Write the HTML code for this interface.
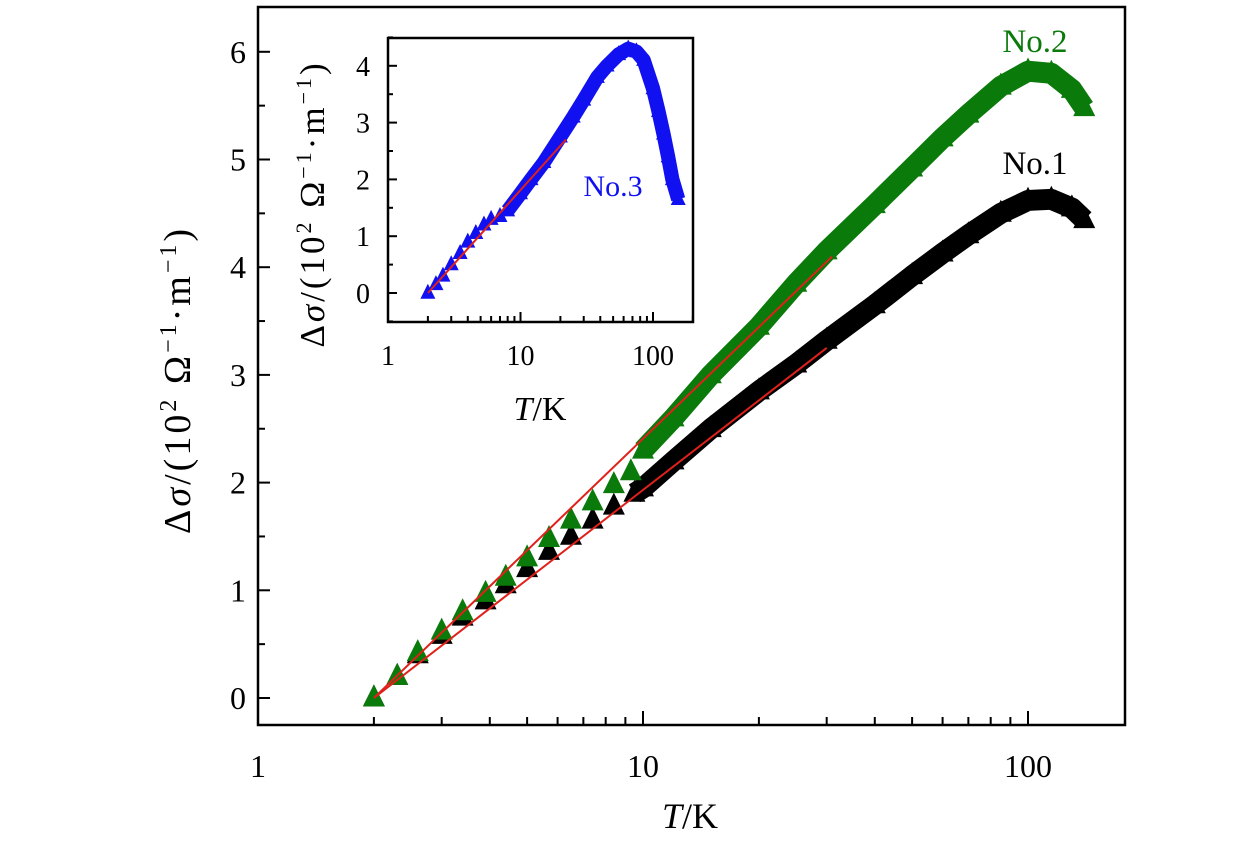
<!DOCTYPE html>
<html><head><meta charset="utf-8"><style>
body{margin:0;background:#fff}
svg{display:block;font-family:"Liberation Serif",serif}
</style></head><body>
<svg id="c" width="1260" height="842" viewBox="0 0 1260 842"></svg>
<script>
// Main chart data
const tNo1=[2,2.3,2.6,3,3.4,3.9,4.4,5,5.7,6.5,7.4,8.4,9.5,10,12,15,20,25,30,40,50,60,70,85,100,115,130,140];
const yNo1=[0,0.2,0.4,0.58,0.75,0.9,1.05,1.2,1.36,1.5,1.65,1.78,1.9,1.95,2.2,2.5,2.85,3.1,3.32,3.65,3.92,4.13,4.3,4.5,4.62,4.63,4.55,4.44];
const tNo2=[2,2.3,2.6,3,3.4,3.9,4.4,5,5.7,6.5,7.4,8.4,9.3,10,12,15,20,25,30,40,50,60,70,85,100,115,130,140];
const yNo2=[0,0.2,0.42,0.62,0.8,0.97,1.12,1.3,1.48,1.65,1.82,1.98,2.1,2.3,2.6,3.0,3.45,3.85,4.15,4.58,4.92,5.2,5.42,5.68,5.82,5.8,5.65,5.48];
const fitNo1T=[2,30], fitNo1Y=[0,3.25];
const fitNo2T=[2,31], fitNo2Y=[0,4.1];
const yTicks=[0,1,2,3,4,5,6];
const xTicks=[1,10,100];
// Inset data
const tNo3=[2,2.3,2.6,3,3.5,4,4.6,5.3,6,7,8,10,12,15,20,25,30,38,45,55,65,75,85,100,110,120,130,140,155];
const yNo3=[0,0.15,0.3,0.5,0.7,0.9,1.05,1.2,1.3,1.35,1.45,1.75,2.0,2.3,2.75,3.1,3.4,3.8,4.0,4.2,4.3,4.25,4.1,3.6,3.2,2.8,2.4,2.0,1.65];
const fitNo3T=[2,22], fitNo3Y=[0,2.7];
const insetYTicks=[0,1,2,3,4];

const NS="http://www.w3.org/2000/svg";
const svg=document.getElementById('c');
function el(tag,attrs,parent){const e=document.createElementNS(NS,tag);for(const k in attrs)e.setAttribute(k,attrs[k]);(parent||svg).appendChild(e);return e;}

const X=t=>258+385*Math.log10(t);
const Y=v=>698-107.7*v;
const IX=t=>388+132.5*Math.log10(t);
const IY=v=>293-56.8*v;

function tri(x,y,s,col,parent){
  return el('polygon',{points:`${x},${y-s*0.62} ${x-s/2},${y+s*0.38} ${x+s/2},${y+s*0.38}`,fill:col},parent);
}
function series(ts,ys,fx,fy,col,s,name,dense){
  const g=el('g',{});
  
  
  const pts=[];
  ts.forEach((t,i)=>{if(t>=dense)pts.push(fx(t)+','+(fy(ys[i])));});
  const band=el('polyline',{points:pts.join(' '),fill:'none',stroke:col,'stroke-width':s*0.95,'stroke-linejoin':'round'},g);
  
  
  ts.forEach((t,i)=>{
    const p=tri(fx(t),fy(ys[i]),s,col,g);
    
    
  });
}
function fit(ts,ys,fx,fy,name){
  const l=el('line',{x1:fx(ts[0]),y1:fy(ys[0]),x2:fx(ts[1]),y2:fy(ys[1]),stroke:'#e0201a','stroke-width':2});
  
  
}
const titleHTML=(sup,dy)=>`Δ<tspan font-style="italic">σ</tspan>/(10<tspan dy="-${dy}" font-size="${sup}">2</tspan><tspan dy="${dy}"> Ω</tspan><tspan dy="-${dy}" font-size="${sup}">−1</tspan><tspan dy="${dy}">·m</tspan><tspan dy="-${dy}" font-size="${sup}">−1</tspan><tspan dy="${dy}">)</tspan>`;

const fr=el('rect',{x:258,y:7,width:867,height:718,fill:'none',stroke:'#000','stroke-width':2.5});


yTicks.forEach(v=>{
  el('line',{x1:258,y1:Y(v),x2:270,y2:Y(v),stroke:'#000','stroke-width':2});
  el('line',{x1:258,y1:Y(v+0.5),x2:265,y2:Y(v+0.5),stroke:'#000','stroke-width':2});
  const t=el('text',{x:238,y:Y(v)+11,'font-size':32,'text-anchor':'middle'});
  t.textContent=v;
  
  
});
for(let d=1;d<=100;d*=10){for(let m=1;m<=9;m++){const t=d*m;const x=X(t);if(x>1125||(d===1&&m===1))continue;
  el('line',{x1:x,y1:725,x2:x,y2:725-(m===1?14:8),stroke:'#000','stroke-width':2});}}
xTicks.forEach(t=>{
  const e=el('text',{x:X(t),y:777,'font-size':32,'text-anchor':'middle'});
  e.textContent=t;
  
  
});
const xt=el('text',{x:690,y:828,'font-size':36,'text-anchor':'middle'});
xt.innerHTML='<tspan font-style="italic">T</tspan>/K';


const yt=el('text',{x:0,y:0,'font-size':38,'letter-spacing':3,'text-anchor':'middle',transform:'translate(190,380) rotate(-90)'});
yt.innerHTML=titleHTML(24,14);



series(tNo1,yNo1,X,Y,'#000',22,'series-no1',9.5);
series(tNo2,yNo2,X,Y,'#0a7a0a',22,'series-no2',10);
fit(fitNo1T,fitNo1Y,X,Y,'fit-line-no1');
fit(fitNo2T,fitNo2Y,X,Y,'fit-line-no2');

const l2=el('text',{x:1035,y:52,'font-size':33,fill:'#0a7a0a','text-anchor':'middle'});l2.textContent='No.2';

const l1=el('text',{x:1035,y:174,'font-size':33,fill:'#000','text-anchor':'middle'});l1.textContent='No.1';


// inset
const ib=el('rect',{x:388,y:38,width:305,height:284,fill:'#fff',stroke:'#000','stroke-width':2.5});


insetYTicks.forEach(v=>{
  el('line',{x1:388,y1:IY(v),x2:397,y2:IY(v),stroke:'#000','stroke-width':2});
  el('line',{x1:388,y1:IY(v+0.5),x2:393,y2:IY(v+0.5),stroke:'#000','stroke-width':2});
  const t=el('text',{x:363,y:IY(v)+10,'font-size':28,'text-anchor':'middle'});t.textContent=v;
  
});
el('line',{x1:388,y1:IY(-0.5),x2:393,y2:IY(-0.5),stroke:'#000','stroke-width':2});
for(let d=1;d<=100;d*=10){for(let m=1;m<=9;m++){const t=d*m;const x=IX(t);if(x>693||(d===1&&m===1))continue;
  el('line',{x1:x,y1:322,x2:x,y2:322-(m===1?10:6),stroke:'#000','stroke-width':2});}}
xTicks.forEach(t=>{
  const e=el('text',{x:IX(t),y:365,'font-size':28,'text-anchor':'middle'});e.textContent=t;
  
});
const ixt=el('text',{x:540,y:420,'font-size':34,'text-anchor':'middle'});
ixt.innerHTML='<tspan font-style="italic">T</tspan>/K';

const iyt=el('text',{x:0,y:0,'font-size':35,'letter-spacing':3,'text-anchor':'middle',transform:'translate(324,204) rotate(-90)'});
iyt.innerHTML=titleHTML(22,13);


series(tNo3,yNo3,IX,IY,'#1010f0',15,'series-no3',8);
fit(fitNo3T,fitNo3Y,IX,IY,'fit-line-no3');
const l3=el('text',{x:613,y:196,'font-size':30,fill:'#1010f0','text-anchor':'middle'});l3.textContent='No.3';

</script>
</body></html>
